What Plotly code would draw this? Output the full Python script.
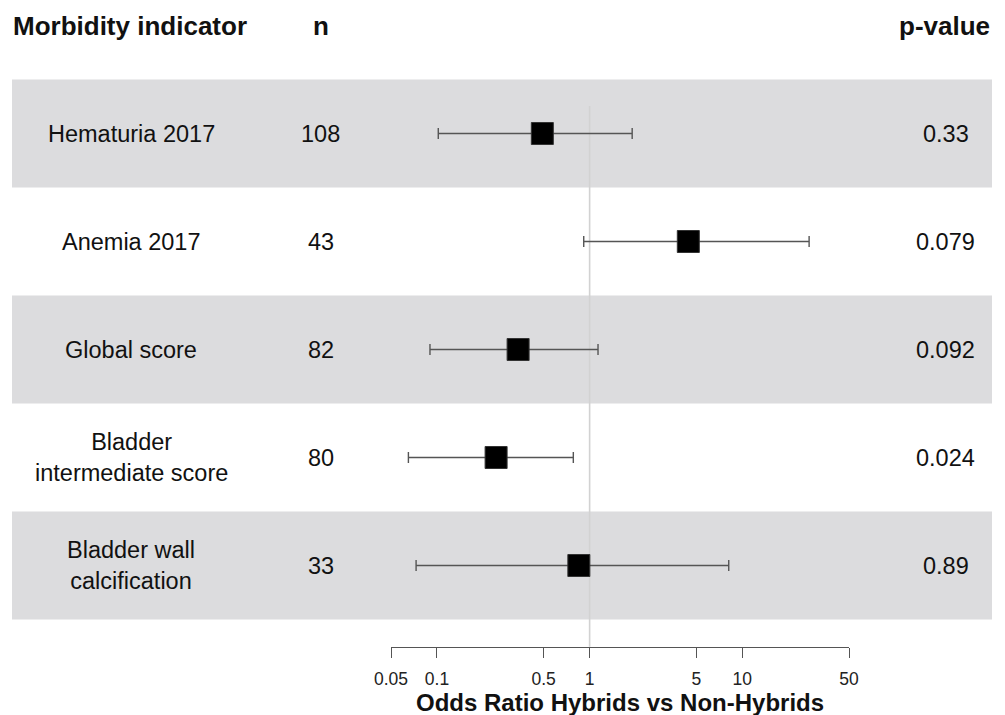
import math
import plotly.graph_objects as go

# Forest plot data: odds ratios (hybrids vs non-hybrids) with 95% CI
indicators = ["Hematuria 2017", "Anemia 2017", "Global score",
              "Bladder<br>intermediate score", "Bladder wall<br>calcification"]
n_values = [108, 43, 82, 80, 33]
odds_ratio = [0.49, 4.43, 0.34, 0.244, 0.85]
ci_lower = [0.102, 0.915, 0.090, 0.065, 0.073]
ci_upper = [1.90, 27.4, 1.135, 0.782, 8.15]
p_values = ["0.33", "0.079", "0.092", "0.024", "0.89"]
tick_vals = [0.05, 0.1, 0.5, 1, 5, 10, 50]
tick_text = ["0.05", "0.1", "0.5", "1", "5", "10", "50"]

W, H = 1005, 715
FONT = "Liberation Sans, Arial, Helvetica, sans-serif"
ROW_H = 108.0          # row height in px
ROW0 = 133.5           # centre of the first row in px from top
AXIS_Y = 646.7         # px position of the odds-ratio axis line

rows = list(range(len(indicators)))
y_top = -ROW0 / ROW_H
y_bot = (H - ROW0) / ROW_H

fig = go.Figure()

fig.add_trace(go.Scatter(
    x=odds_ratio, y=rows, mode="markers",
    marker=dict(symbol="square", size=22, color="black",
                line=dict(color="#333333", width=1)),
    error_x=dict(type="data", symmetric=False,
                 array=[u - o for u, o in zip(ci_upper, odds_ratio)],
                 arrayminus=[o - l for o, l in zip(odds_ratio, ci_lower)],
                 color="#555555", thickness=1.4, width=5.5),
    showlegend=False, hoverinfo="skip", cliponaxis=False,
))

shapes = []
# alternating shaded row bands
for i in rows:
    if i % 2 == 0:
        shapes.append(dict(type="rect", xref="paper", yref="y",
                           x0=12 / W, x1=992 / W, y0=i - 0.5, y1=i + 0.5,
                           fillcolor="#dcdcde", line=dict(width=0), layer="below"))
# reference line at OR = 1
shapes.append(dict(type="line", xref="x", yref="paper",
                   x0=1, x1=1, y0=1 - AXIS_Y / H, y1=1 - 106 / H,
                   line=dict(color="#d2d2d2", width=1.6), layer="below"))

annotations = []
text_font = dict(family=FONT, size=23.5, color="#111111")
for i, (lab, n, p) in enumerate(zip(indicators, n_values, p_values)):
    annotations.append(dict(x=131 / W, y=i, xref="paper", yref="y", text=lab,
                            showarrow=False, xanchor="center", yanchor="middle",
                            align="center", font=text_font))
    annotations.append(dict(x=320.5 / W, y=i, xref="paper", yref="y", text=str(n),
                            showarrow=False, xanchor="center", yanchor="middle",
                            font=text_font))
    annotations.append(dict(x=945.5 / W, y=i, xref="paper", yref="y", text=p,
                            showarrow=False, xanchor="center", yanchor="middle",
                            font=text_font))

head_font = dict(family=FONT, size=26, color="#111111")
for txt, xpx, anchor in [("<b>Morbidity indicator</b>", 11, "left"),
                         ("<b>n</b>", 320.5, "center"),
                         ("<b>p-value</b>", 992, "right")]:
    annotations.append(dict(x=xpx / W, y=1 - 26 / H, xref="paper", yref="paper",
                            text=txt, showarrow=False, xanchor=anchor,
                            yanchor="middle", font=head_font))

annotations.append(dict(x=620 / W, y=1 - 702 / H, xref="paper", yref="paper",
                        text="<b>Odds Ratio Hybrids vs Non-Hybrids</b>",
                        showarrow=False, xanchor="center", yanchor="middle",
                        font=dict(family=FONT, size=24, color="#111111")))

fig.update_layout(
    width=W, height=H,
    margin=dict(l=0, r=0, t=0, b=0, pad=0, autoexpand=False),
    paper_bgcolor="white", plot_bgcolor="rgba(0,0,0,0)",
    shapes=shapes, annotations=annotations,
    xaxis=dict(type="log", domain=[391 / W, 849 / W],
               range=[math.log10(tick_vals[0]), math.log10(tick_vals[-1])],
               anchor="free", position=1 - AXIS_Y / H, automargin=False,
               tickvals=tick_vals, ticktext=tick_text, ticklabelstandoff=6,
               tickfont=dict(family=FONT, size=17.5, color="#222222"),
               showline=True, linecolor="#555555", linewidth=1.3,
               ticks="outside", ticklen=10, tickwidth=1.3, tickcolor="#555555",
               showgrid=False, zeroline=False, fixedrange=True),
    yaxis=dict(range=[y_bot, y_top], domain=[0, 1], visible=False,
               automargin=False, showgrid=False, zeroline=False,
               fixedrange=True),
)

fig.write_html("out.html")
